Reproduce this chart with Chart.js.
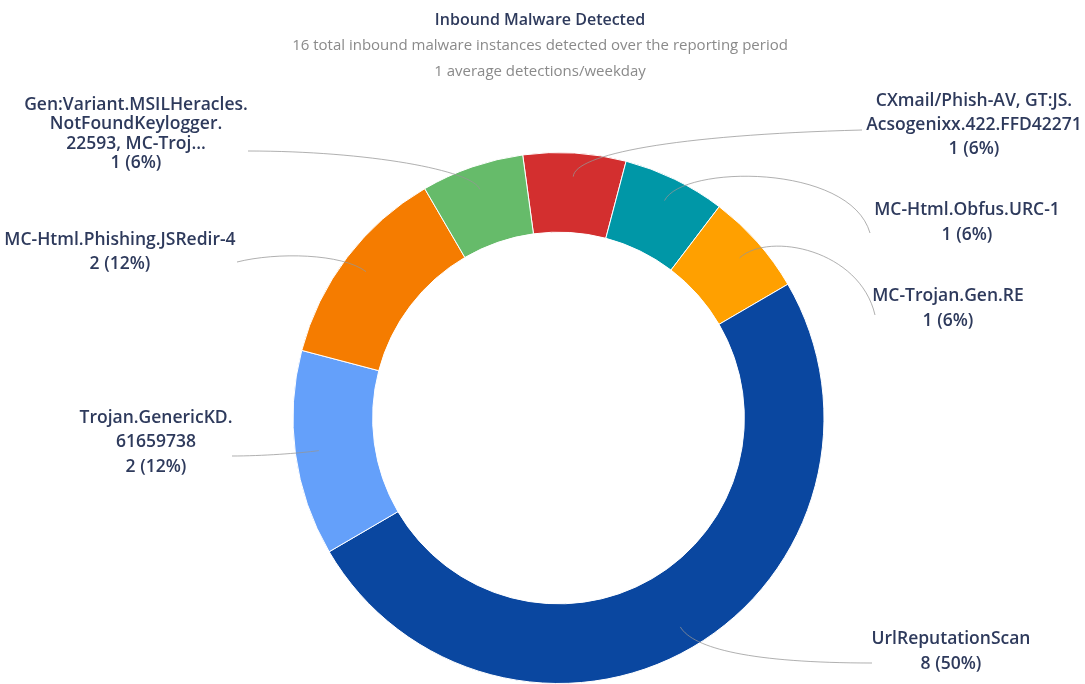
<!DOCTYPE html>
<html>
<head>
<meta charset="utf-8">
<script src="https://cdn.jsdelivr.net/npm/chart.js@4.4.1/dist/chart.umd.min.js"></script>
<style>
  html, body { margin: 0; padding: 0; background: #ffffff; }
  #wrap { width: 1085px; height: 684px; position: relative; }
</style>
</head>
<body>
<div id="wrap"><canvas id="c" width="1085" height="684"></canvas></div>
<script>
// ---- data ----
const titleText = 'Inbound Malware Detected';
const subtitleLines = [
  '16 total inbound malware instances detected over the reporting period',
  '1 average detections/weekday'
];
const categories = [
  ['CXmail/Phish-AV, GT:JS.', 'Acsogenixx.422.FFD42271'],
  ['MC-Html.Obfus.URC-1'],
  ['MC-Trojan.Gen.RE'],
  ['UrlReputationScan'],
  ['Trojan.GenericKD.', '61659738'],
  ['MC-Html.Phishing.JSRedir-4'],
  ['Gen:Variant.MSILHeracles.', 'NotFoundKeylogger.', '22593, MC-Troj...']
];
const counts = [1, 1, 1, 8, 2, 2, 1];
const colors = ['#d32f2f', '#0097a7', '#ffa000', '#0a47a0', '#64a0fa', '#f57c00', '#66bb6a'];

// ---- label layout (positions of the outside labels and connector shapes) ----
const labelLayout = [
  { cx: 974, y0: 101, lh: 24,   ex: 862, ey: 130, a: 22, bx: -190, by: 5 },
  { cx: 967, y0: 210, lh: 25,   ex: 870, ey: 233, a: 40, bx: -20, by: -70 },
  { cx: 948, y0: 296, lh: 25,   ex: 875, ey: 315, a: 40, bx: -15, by: -65 },
  { cx: 951, y0: 639, lh: 25,   ex: 872, ey: 663, a: 25, bx: -120, by: 0 },
  { cx: 156, y0: 418, lh: 24.5, ex: 232, ey: 456, a: 20, bx: 30, by: 0 },
  { cx: 120, y0: 240, lh: 24,   ex: 237, ey: 262, a: 30, bx: 40, by: -10 },
  { cx: 136, y0: 105, lh: 19.3, ex: 248, ey: 151, a: 20, bx: 120, by: 0 }
];

const total = counts.reduce((s, v) => s + v, 0);

const labelPlugin = {
  id: 'outLabels',
  afterDraw(chart) {
    const ctx = chart.ctx;
    const meta = chart.getDatasetMeta(0);
    ctx.save();
    // title + subtitle
    ctx.textAlign = 'center';
    ctx.textBaseline = 'middle';
    ctx.fillStyle = '#2e3a5c';
    ctx.font = '600 16px "Open Sans"';
    ctx.fillText(titleText, 540, 20);
    ctx.fillStyle = '#8a8a8a';
    ctx.font = '400 15px "Open Sans"';
    ctx.fillText(subtitleLines[0], 540, 46);
    ctx.fillText(subtitleLines[1], 540, 72);

    meta.data.forEach((arc, i) => {
      const p = arc.getProps(['x', 'y', 'startAngle', 'endAngle', 'outerRadius'], true);
      const mid = (p.startAngle + p.endAngle) / 2;
      const L = labelLayout[i];
      const r = p.outerRadius * 0.911;
      const sx = p.x + Math.cos(mid) * r;
      const sy = p.y + Math.sin(mid) * r;
      const c1x = sx + Math.cos(mid) * L.a;
      const c1y = sy + Math.sin(mid) * L.a;
      const c2x = L.ex + L.bx;
      const c2y = L.ey + L.by;
      ctx.beginPath();
      ctx.moveTo(sx, sy);
      ctx.bezierCurveTo(c1x, c1y, c2x, c2y, L.ex, L.ey);
      ctx.strokeStyle = 'rgba(150,150,150,0.75)';
      ctx.lineWidth = 1;
      ctx.stroke();

      const v = counts[i];
      const lines = categories[i].concat([v + ' (' + Math.floor(v / total * 100) + '%)']);
      ctx.fillStyle = '#2e3a5c';
      ctx.font = '600 17.5px "Open Sans"';
      lines.forEach((t, k) => ctx.fillText(t, L.cx, L.y0 + k * L.lh));
    });
    ctx.restore();
  }
};

new Chart(document.getElementById('c'), {
  type: 'doughnut',
  data: {
    labels: categories,
    datasets: [{
      data: counts,
      backgroundColor: colors,
      borderColor: '#ffffff',
      borderWidth: 1
    }]
  },
  options: {
    responsive: false,
    animation: false,
    rotation: -7.75,
    cutout: '70%',
    layout: { padding: { top: 152, bottom: 0, left: 292.5, right: 260.5 } },
    plugins: {
      legend: { display: false },
      tooltip: { enabled: false },
      title: { display: false }
    },
    events: []
  },
  plugins: [labelPlugin]
});
</script>
</body>
</html>
